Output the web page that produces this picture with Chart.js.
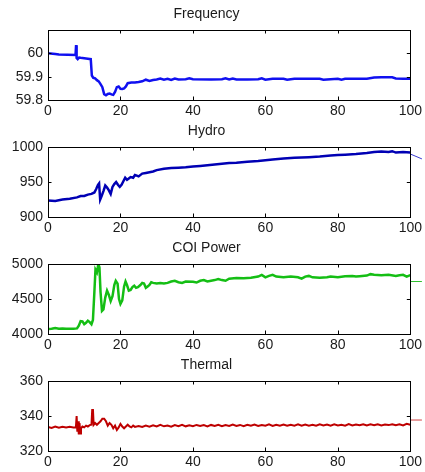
<!DOCTYPE html>
<html>
<head>
<meta charset="utf-8">
<script src="https://cdn.jsdelivr.net/npm/chart.js@4.4.0/dist/chart.umd.min.js"></script>
<style>
  body { margin: 0; background: #fff; }
  .panel { position: absolute; left: 0; width: 425px; height: 125px; }
</style>
</head>
<body>
<div class="panel" style="top:0px"><canvas id="freqChart" width="425" height="125"></canvas></div>
<div class="panel" style="top:117px"><canvas id="hydroChart" width="425" height="125"></canvas></div>
<div class="panel" style="top:234px"><canvas id="coiChart" width="425" height="125"></canvas></div>
<div class="panel" style="top:351px"><canvas id="thermalChart" width="425" height="125"></canvas></div>
<script>
// time (s), value pairs
var freqData = [[0,60.0],[2,59.997],[3,59.995],[7.6,59.993],[7.75,60.035],[7.9,59.98],[8.2,59.975],[8.6,59.982],
  [9,59.981],[10.5,59.978],[11,59.977],[11.8,59.975],[12.1,59.905],[12.5,59.895],[13,59.893],[13.5,59.885],
  [14,59.88],[14.5,59.868],[15,59.855],[15.5,59.825],[16,59.82],[16.5,59.826],[17,59.828],[17.5,59.824],
  [18,59.822],[18.5,59.835],[19,59.855],[19.5,59.858],[20,59.848],[20.5,59.847],[21,59.85],[21.5,59.858],
  [22,59.872],[23,59.875],[24,59.875],[25,59.877],[26,59.88],[27,59.887],[28,59.882],[29,59.886],[30,59.888],
  [31,59.892],[32,59.887],[33,59.891],[34,59.886],[35,59.892],[36,59.888],[38,59.889],[39,59.893],[40,59.889],
  [45,59.888],[48,59.889],[49,59.893],[50,59.888],[51,59.892],[52,59.888],[55,59.888],[58,59.889],[59,59.893],
  [60,59.887],[62,59.891],[65,59.891],[66,59.887],[68,59.891],[70,59.891],[75,59.891],[76,59.887],[78,59.889],
  [80,59.891],[81,59.887],[82,59.891],[85,59.891],[88,59.891],[90,59.896],[92,59.897],[95,59.897],[96,59.892],
  [98,59.891],[100,59.891]];

var hydroData = [[0,923.5],[2,923],[4,925],[6,926],[8,928],[9,930],[10,930],[11,932],[12,933],[12.8,935],
  [13.3,940],[13.8,946],[14.1,948],[14.4,925],[14.8,930],[15.3,937],[15.8,945],[16.3,942],[16.8,938],
  [17.3,933],[17.8,943],[18.3,947],[18.8,950],[19.3,946],[19.8,943],[20.3,946],[20.8,951],[21.3,956],
  [21.8,953],[22.3,955],[22.8,957],[23.5,956],[24,960],[24.5,959],[25,958],[26,962],[27,963],[28,964],
  [29,965],[30,967],[32,969],[34,970],[36,970.5],[38,971],[40,972],[42,973],[44,974],[46,975],[48,976],
  [50,977],[52,977.5],[55,979],[58,980],[60,981],[62,982],[65,983.5],[68,984.5],[70,985],[72,985.5],
  [75,986.5],[78,988],[80,988.5],[82,989],[85,990],[88,991.5],[90,993],[92,993.5],[94,993],[95,994],
  [96,992],[98,993],[100,992]];

var coiData = [[0,4070],[1,4075],[2,4085],[3,4075],[4,4080],[5,4075],[6,4075],[7,4075],[8,4080],[8.5,4120],
  [9,4185],[9.5,4180],[10,4140],[10.5,4160],[11,4190],[11.5,4170],[12,4140],[12.4,4200],[12.8,4600],
  [13.1,4920],[13.5,4880],[13.9,5000],[14.2,4950],[14.5,4600],[14.9,4330],[15.3,4350],[15.8,4520],
  [16.3,4620],[16.8,4560],[17.3,4470],[17.8,4540],[18.3,4700],[18.7,4760],[19.2,4720],[19.6,4500],
  [20,4430],[20.5,4480],[21,4680],[21.4,4750],[21.8,4700],[22.3,4620],[22.8,4630],[23.3,4670],[23.8,4690],
  [24.3,4660],[24.8,4670],[25.5,4700],[26,4730],[26.5,4720],[27,4660],[27.5,4680],[28,4700],[28.5,4740],
  [29,4730],[30,4720],[31,4730],[32,4720],[33,4730],[34,4750],[35,4760],[36,4740],[37,4730],[38,4750],
  [40,4745],[41,4735],[42,4760],[43,4770],[44,4750],[45,4760],[46,4770],[47,4785],[48,4770],[49,4760],
  [50,4790],[52,4800],[54,4795],[56,4805],[58,4820],[59,4845],[60,4810],[61,4830],[62,4845],[63,4820],
  [65,4810],[67,4820],[69,4810],[70,4790],[71,4820],[72,4830],[73,4810],[75,4805],[77,4810],[78,4820],
  [80,4810],[82,4825],[84,4830],[85,4820],[86,4825],[88,4835],[89,4855],[90,4845],[92,4840],[94,4845],
  [96,4830],[97,4840],[98,4845],[99,4820],[100,4840]];

var thermalData = [[0,333.8],[1,333.2],[2,334.0],[3,333.3],[4,333.9],[5,333.4],[6,333.8],[7,333.5],
  [7.7,333.6],[7.9,340],[8.1,331],[8.3,337],[8.5,329.5],[8.7,336],[8.9,330],[9.1,333],[9.5,334],[10,333.5],
  [10.5,334.5],[11,334],[11.5,334.8],[12,335],[12.2,343.5],[12.4,344],[12.6,335],[13,336],[13.5,335],
  [14,336],[14.5,337],[15,338.5],[15.5,338.5],[16,337],[16.5,334.5],[17,336],[17.5,335],[18,333],
  [18.5,334.5],[19,332],[19.5,333.5],[20,335.5],[20.5,334],[21,333],[21.5,334],[22,335],[22.5,334],
  [23,333.5],[23.5,334.5],[24,333.8],[25,334.3],[26,333.7],[27,334.5],[28,333.9],[29,334.7],[30,334.0],
  [31,334.9],[32,334.1],[33,334.6],[34,333.9],[35,334.8],[36,334.2],[37,335.0],[38,334.1],[39,334.7],
  [40,334.2],[41,334.9],[42,334.3],[43,334.8],[44,334.1],[45,334.9],[46,334.3],[47,335.0],[48,334.2],
  [49,334.8],[50,334.3],[51,335.1],[52,334.3],[53,334.9],[54,334.2],[55,335.0],[56,334.4],[57,335.1],
  [58,334.3],[59,334.9],[60,334.4],[61,335.2],[62,334.3],[63,335.0],[64,334.5],[65,335.1],[66,334.4],
  [67,335.0],[68,334.5],[69,335.2],[70,334.4],[71,335.1],[72,334.5],[73,335.0],[74,334.4],[75,335.2],
  [76,334.6],[77,335.1],[78,334.5],[79,335.2],[80,334.6],[81,335.0],[82,334.5],[83,335.4],[84,334.6],
  [85,335.1],[86,334.7],[87,335.3],[88,334.6],[89,335.2],[90,334.7],[91,335.3],[92,334.6],[93,335.1],
  [94,334.8],[95,335.3],[96,334.7],[97,335.2],[98,334.6],[99,335.5],[100,335.0]];

// short stray segments that run past the right edge of the axes
var tailTime = [100, 103.2];
var hydroTail = [990, 983];
var coiTail = [4750, 4750];
var thermalTail = [337.7, 337.7];

var xTicks = [0, 20, 40, 60, 80, 100];
var freqTicks = [59.8, 59.9, 60];
var hydroTicks = [900, 950, 1000];
var coiTicks = [4000, 4500, 5000];
var thermalTicks = [320, 340, 360];

var FONT = { family: "'Liberation Sans', Arial, sans-serif", size: 14 };

// matlab style box with inward tick marks
var boxPlugin = {
    id: 'box',
    afterDatasetsDraw: function(chart) {
        var ctx = chart.ctx;
        var a = chart.chartArea;
        var xs = chart.scales.x, ys = chart.scales.y;
        var len = 3.5;
        ctx.save();
        ctx.strokeStyle = '#000';
        ctx.lineWidth = 1;
        ctx.strokeRect(Math.round(a.left) + 0.5, Math.round(a.top) + 0.5,
            Math.round(a.right - a.left), Math.round(a.bottom - a.top));
        ctx.beginPath();
        xs.ticks.forEach(function(t) {
            var px = Math.round(xs.getPixelForValue(t.value)) + 0.5;
            ctx.moveTo(px, a.bottom); ctx.lineTo(px, a.bottom - len);
            ctx.moveTo(px, a.top); ctx.lineTo(px, a.top + len);
        });
        ys.ticks.forEach(function(t) {
            var py = Math.round(ys.getPixelForValue(t.value)) + 0.5;
            ctx.moveTo(a.left, py); ctx.lineTo(a.left + len, py);
            ctx.moveTo(a.right, py); ctx.lineTo(a.right - len, py);
        });
        ctx.stroke();
        ctx.restore();
    }
};

function toPoints(pairs) {
    return pairs.map(function(p) { return { x: p[0], y: p[1] }; });
}

function createPanel(id, title, pairs, color, width, ticks, tail, tailColor) {
    var datasets = [{
        data: toPoints(pairs),
        borderColor: color,
        borderWidth: width,
        pointRadius: 0,
        tension: 0
    }];
    if (tail) {
        var tailPoints = [];
        for (var i = 0; i < tailTime.length; i++) {
            tailPoints.push({ x: tailTime[i], y: tail[i] });
        }
        datasets.push({
            data: tailPoints,
            borderColor: tailColor,
            borderWidth: 1,
            pointRadius: 0,
            clip: false
        });
    }
    new Chart(document.getElementById(id), {
        type: 'line',
        data: { datasets: datasets },
        plugins: [boxPlugin],
        options: {
            responsive: false,
            animation: false,
            layout: { padding: { left: 0, right: 12, top: 0, bottom: 0 } },
            plugins: {
                legend: { display: false },
                tooltip: { enabled: false },
                title: {
                    display: true,
                    text: title,
                    color: '#1a1a1a',
                    font: { family: FONT.family, size: 14, weight: 'normal' },
                    padding: { top: 5.6, bottom: 7.6 }
                }
            },
            scales: {
                x: {
                    type: 'linear',
                    min: 0,
                    max: 100,
                    grid: { display: false, drawTicks: false },
                    border: { display: false },
                    afterBuildTicks: function(s) { s.ticks = xTicks.map(function(v) { return { value: v }; }); },
                    afterFit: function(s) { s.height = 25; },
                    ticks: { color: '#1a1a1a', font: FONT, padding: 3, maxRotation: 0,
                        callback: function(v) { return String(v); } }
                },
                y: {
                    min: ticks[0],
                    max: ticks[ticks.length - 1] + (title == 'Frequency' ? 0.1 : 0),
                    grid: { display: false, drawTicks: false },
                    border: { display: false },
                    afterBuildTicks: function(s) { s.ticks = ticks.map(function(v) { return { value: v }; }); },
                    afterFit: function(s) { s.width = 48; },
                    ticks: { color: '#1a1a1a', font: FONT, padding: 5,
                        callback: function(v) { return String(+v.toFixed(2)); } }
                }
            }
        }
    });
}

createPanel('freqChart', 'Frequency', freqData, '#1010f0', 2.5, freqTicks);
createPanel('hydroChart', 'Hydro', hydroData, '#0000b4', 2.5, hydroTicks, hydroTail, '#3a3ad0');
createPanel('coiChart', 'COI Power', coiData, '#14be14', 2.5, coiTicks, coiTail, '#30c030');
createPanel('thermalChart', 'Thermal', thermalData, '#be0000', 2, thermalTicks, thermalTail, '#d04040');
</script>
</body>
</html>
